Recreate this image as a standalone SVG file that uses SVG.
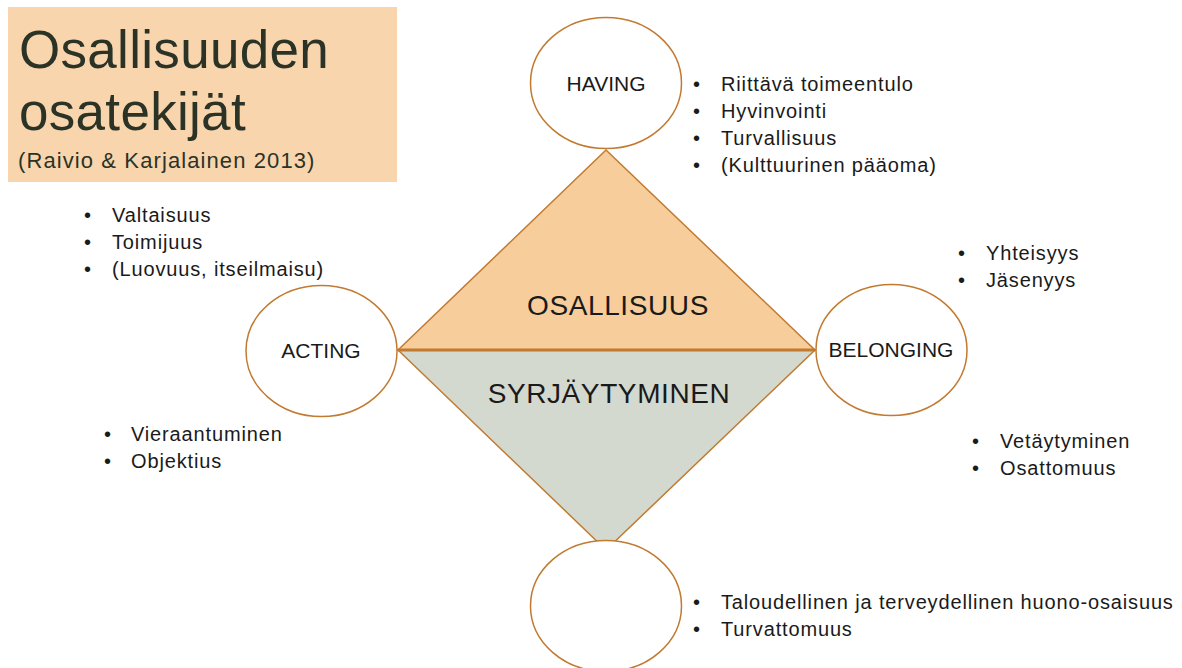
<svg xmlns="http://www.w3.org/2000/svg" width="1182" height="668" viewBox="0 0 1182 668">
<style>
text{font-family:"Liberation Sans",Arial,sans-serif;fill:#1a1a1a}
.t{font-size:20px;letter-spacing:0.85px}
.lbl{font-size:21px;text-anchor:middle}
.big{font-size:28px;text-anchor:middle;letter-spacing:0.6px}
.circ{fill:#fff;stroke:#c17a30;stroke-width:1.5}
.ttl{fill:#2b3326}
</style>
<rect width="1182" height="668" fill="#fff"/>
<g id="title">
<rect x="8" y="7" width="389" height="175" fill="#f9d5ae"/>
<text class="ttl" x="19" y="68" style="font-size:53px;letter-spacing:0.3px">Osallisuuden</text>
<text class="ttl" x="19" y="130" style="font-size:53px;letter-spacing:0.3px">osatekijät</text>
<text class="ttl" x="18" y="168" style="font-size:22px;letter-spacing:1.1px">(Raivio &amp; Karjalainen 2013)</text>
</g>
<g id="diamond">
<polygon points="398,350 606,150 815,350" fill="#f6cd9b" stroke="#c17a30" stroke-width="1.5"/>
<polygon points="398,350 606,550 815,350" fill="#d3d9cf" stroke="#c17a30" stroke-width="1.5"/>
<text class="big" x="618" y="315">OSALLISUUS</text>
<text class="big" x="609" y="403">SYRJÄYTYMINEN</text>
</g>
<g id="connectors">
<line x1="398" y1="350" x2="815" y2="350" stroke="#c17a30" stroke-width="3"/>
</g>
<g id="having">
<ellipse class="circ" cx="606" cy="83" rx="75.5" ry="65.5"/>
<text class="lbl" x="606" y="91">HAVING</text>
<text class="t" x="693" y="91">•</text><text class="t" x="721" y="91">Riittävä toimeentulo</text>
<text class="t" x="693" y="118">•</text><text class="t" x="721" y="118">Hyvinvointi</text>
<text class="t" x="693" y="145">•</text><text class="t" x="721" y="145">Turvallisuus</text>
<text class="t" x="693" y="172">•</text><text class="t" x="721" y="172">(Kulttuurinen pääoma)</text>
</g>
<g id="acting">
<ellipse class="circ" cx="321.5" cy="351" rx="75.5" ry="65.5"/>
<text class="lbl" x="321" y="358">ACTING</text>
<text class="t" x="84" y="222">•</text><text class="t" x="112" y="222">Valtaisuus</text>
<text class="t" x="84" y="249">•</text><text class="t" x="112" y="249">Toimijuus</text>
<text class="t" x="84" y="276">•</text><text class="t" x="112" y="276">(Luovuus, itseilmaisu)</text>
<text class="t" x="104" y="441">•</text><text class="t" x="131" y="441">Vieraantuminen</text>
<text class="t" x="104" y="468">•</text><text class="t" x="131" y="468">Objektius</text>
</g>
<g id="belonging">
<ellipse class="circ" cx="891.5" cy="350" rx="75.5" ry="65.5"/>
<text class="lbl" x="891" y="357">BELONGING</text>
<text class="t" x="958" y="260">•</text><text class="t" x="986" y="260">Yhteisyys</text>
<text class="t" x="958" y="287">•</text><text class="t" x="986" y="287">Jäsenyys</text>
<text class="t" x="972" y="448">•</text><text class="t" x="1000" y="448">Vetäytyminen</text>
<text class="t" x="972" y="475">•</text><text class="t" x="1000" y="475">Osattomuus</text>
</g>
<g id="bottom">
<ellipse class="circ" cx="606" cy="606" rx="75.5" ry="65.5"/>
<text class="t" x="693" y="609">•</text><text class="t" x="721" y="609">Taloudellinen ja terveydellinen huono-osaisuus</text>
<text class="t" x="693" y="636">•</text><text class="t" x="721" y="636">Turvattomuus</text>
</g>
</svg>
